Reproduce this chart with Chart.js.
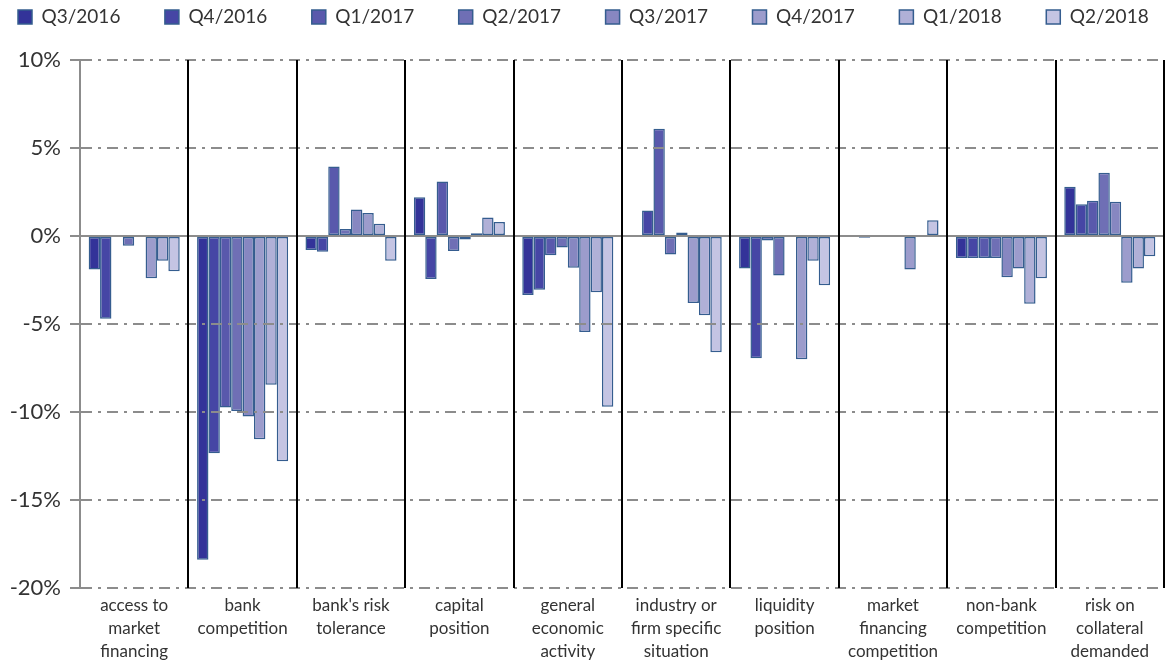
<!DOCTYPE html>
<html>
<head>
<meta charset="utf-8">
<script src="https://cdn.jsdelivr.net/npm/chart.js@4/dist/chart.umd.min.js"></script>
<style>
  html, body { margin: 0; padding: 0; background: #fff; }
  #wrap { width: 1166px; height: 662px; }
</style>
</head>
<body>
<div id="wrap"><canvas id="trendChart" width="1166" height="662"></canvas></div>
<script>
const categories = [
  ["access to", "market", "financing"],
  ["bank", "competition"],
  ["bank's risk", "tolerance"],
  ["capital", "position"],
  ["general", "economic", "activity"],
  ["industry or", "firm specific", "situation"],
  ["liquidity", "position"],
  ["market", "financing", "competition"],
  ["non-bank", "competition"],
  ["risk on", "collateral", "demanded"]
];
const quarters = ["Q3/2016", "Q4/2016", "Q1/2017", "Q2/2017", "Q3/2017", "Q4/2017", "Q1/2018", "Q2/2018"];
const q3_2016 = [-1.9, -18.4, -0.8, 2.2, -3.35, -0.05, -1.85, 0, -1.25, 2.8];
const q4_2016 = [-4.7, -12.35, -0.9, -2.45, -3.05, 1.45, -6.95, -0.1, -1.25, 1.8];
const q1_2017 = [0, -9.75, 3.95, 3.1, -1.1, 6.1, -0.25, 0, -1.25, 2.0];
const q2_2017 = [-0.55, -9.95, 0.4, -0.85, -0.65, -1.05, -2.25, 0, -1.25, 3.6];
const q3_2017 = [0, -10.25, 1.5, -0.2, -1.8, 0.2, 0, 0, -2.35, 1.95];
const q4_2017 = [-2.4, -11.55, 1.3, 0.15, -5.45, -3.8, -7.0, -1.9, -1.85, -2.65];
const q1_2018 = [-1.4, -8.45, 0.7, 1.05, -3.2, -4.5, -1.4, 0, -3.85, -1.85];
const q2_2018 = [-2.0, -12.8, -1.4, 0.8, -9.7, -6.6, -2.8, 0.9, -2.4, -1.15];
const yTicks = [-20, -15, -10, -5, 0, 5, 10];

const seriesValues = [q3_2016, q4_2016, q1_2017, q2_2017, q3_2017, q4_2017, q1_2018, q2_2018];
const fills = ["#333399", "#4646a5", "#5959ac", "#6f6fb5", "#8787c1", "#9c9ccc", "#b0b0d7", "#c4c4e3"];

const FONT = "Lato, 'Open Sans', sans-serif";
const gridGray = "#8c8c8c";
const LEG_PAD = 44.5;

// one legend row, 60px tall, placed like the reference
const legendPlace = {
  id: "legendPlace",
  beforeLayout(chart) {
    const lg = chart.legend;
    if (lg && !lg._patched) {
      const fit = lg.fit;
      lg.fit = function () {
        const mw = this.maxWidth;
        this.maxWidth = 4000;
        fit.call(this);
        this.maxWidth = mw;
        this.width = mw;
        this.height = 60;
      };
      lg._patched = true;
    }
  },
  afterLayout(chart) {
    chart.legend.left = 18 - LEG_PAD;
    chart.legend.top = 17 - 9.5 - LEG_PAD;
    chart.legend.right = 4000;
  }
};

const ctx = document.getElementById("trendChart").getContext("2d");
new Chart(ctx, {
  type: "bar",
  data: {
    labels: categories,
    datasets: quarters.map((q, i) => ({
      label: q,
      data: seriesValues[i],
      backgroundColor: fills[i],
      borderColor: "#355d8f",
      borderWidth: 1.5,
      borderSkipped: false,
      categoryPercentage: 0.84,
      barPercentage: 1.0
    }))
  },
  options: {
    responsive: false,
    animation: false,
    layout: { padding: { top: 0, right: 2, left: 0, bottom: 0 } },
    plugins: {
      tooltip: { enabled: false },
      legend: {
        position: "top",
        align: "start",
        labels: {
          boxWidth: 14,
          boxHeight: 14,
          padding: LEG_PAD,
          color: "#333",
          font: { family: FONT, size: 19 }
        }
      }
    },
    scales: {
      x: {
        grid: {
          offset: true,
          drawTicks: false,
          lineWidth: 2,
          color: (c) => (c.index === 0 ? gridGray : "#000"),
          z: 2
        },
        border: { display: false },
        ticks: {
          autoSkip: false,
          maxRotation: 0,
          padding: 6,
          color: "#333",
          font: { family: FONT, size: 17, lineHeight: 1.35 }
        },
        afterFit: (s) => { s.height = 74; }
      },
      y: {
        min: -20,
        max: 10,
        afterBuildTicks: (s) => { s.ticks = yTicks.map(v => ({ value: v })); },
        grid: {
          color: gridGray,
          lineWidth: 2,
          tickLength: 10,
          z: 1
        },
        border: {
          display: true,
          color: gridGray,
          width: 2,
          z: 1,
          dash: (c) => (c.tick && c.tick.value === 0 ? [] : [11, 6, 3, 6])
        },
        ticks: {
          padding: 9,
          color: "#333",
          font: { family: FONT, size: 22 },
          callback: (v) => v + "%"
        },
        afterFit: (s) => { s.width = 80; }
      }
    }
  },
  plugins: [legendPlace]
});
</script>
</body>
</html>
